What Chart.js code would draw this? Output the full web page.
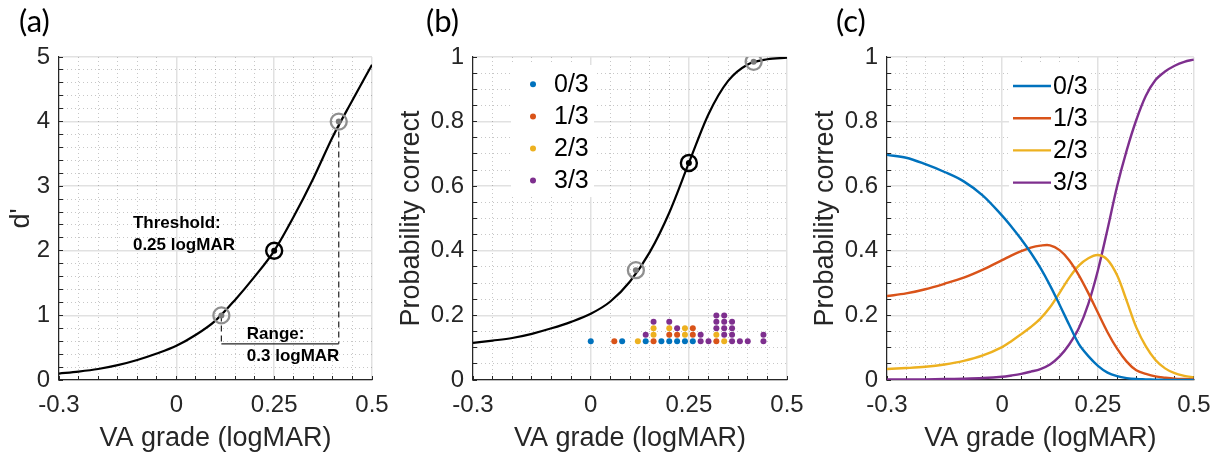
<!DOCTYPE html>
<html><head><meta charset="utf-8">
<script src="https://cdn.jsdelivr.net/npm/chart.js@4.4.1/dist/chart.umd.min.js"></script>
<style>
html,body{margin:0;padding:0;background:#fff;}
#wrap{position:relative;width:1221px;height:455px;overflow:hidden;background:#fff;}
canvas{position:absolute;left:0;top:0;}
.plabel{position:absolute;font-family:Lato,'Open Sans',sans-serif;font-size:31px;color:#000;line-height:1;}
</style></head><body>
<div id="wrap">
<canvas id="ca" width="1221" height="455"></canvas>
<canvas id="cb" width="1221" height="455"></canvas>
<canvas id="cc" width="1221" height="455"></canvas>
<div class="plabel" style="left:19px;top:5px">(a)</div>
<div class="plabel" style="left:426px;top:5px">(b)</div>
<div class="plabel" style="left:836px;top:5px">(c)</div>
</div>
<script>
// ---------- data ----------
const xMajorTicks = [-0.3, 0, 0.25, 0.5];
const dprimeTicks = [0, 1, 2, 3, 4, 5];
const probTicks = [0, 0.2, 0.4, 0.6, 0.8, 1];
const xTitle = 'VA grade (logMAR)';
const yTitleA = "d'";
const yTitleBC = 'Probability correct';

// panel (a): d' psychometric function
const curveXA = [-0.3,-0.25,-0.2,-0.15,-0.1,-0.05,0,0.05,0.1,0.15,0.2,0.25,0.3,0.35,0.4,0.45,0.5];
const dprime = [0.10,0.13,0.17,0.23,0.31,0.41,0.53,0.70,0.92,1.24,1.60,2.00,2.53,3.12,3.77,4.33,4.88];
const keyX = [0.115, 0.25, 0.415];
const keyD = [1, 2, 4];
const rangeBarD = 0.56;
const annotText = ['Threshold:', '0.25 logMAR', 'Range:', '0.3 logMAR'];

// panel (b): probability correct + observed responses
const curveXB = [-0.3,-0.25,-0.2,-0.15,-0.1,-0.05,0,0.05,0.1,0.15,0.2,0.25,0.3,0.35,0.4,0.45,0.5];
const pCorrect = [0.115,0.122,0.130,0.143,0.160,0.180,0.205,0.243,0.305,0.395,0.518,0.672,0.823,0.926,0.977,0.993,0.998];
const keyP = [0.34, 0.672, 0.985];
const seriesLabels = ['0/3', '1/3', '2/3', '3/3'];
const resp0X = [0, 0.08, 0.14, 0.18, 0.20, 0.22, 0.24, 0.26];
const resp0Y = [0.12, 0.12, 0.12, 0.12, 0.12, 0.12, 0.12, 0.12];
const resp1X = [0.06, 0.16, 0.20, 0.22, 0.26, 0.26, 0.32];
const resp1Y = [0.12, 0.12, 0.14, 0.14, 0.14, 0.16, 0.12];
const resp2X = [0.12, 0.16, 0.16, 0.20, 0.24, 0.24, 0.32, 0.34];
const resp2Y = [0.12, 0.14, 0.16, 0.16, 0.14, 0.16, 0.14, 0.12];
const resp3X = [0.14, 0.16, 0.20, 0.22, 0.28, 0.28, 0.30, 0.32, 0.32, 0.32, 0.34, 0.34, 0.34, 0.34, 0.36, 0.36, 0.36, 0.36, 0.38, 0.40, 0.44, 0.44];
const resp3Y = [0.14, 0.18, 0.18, 0.16, 0.12, 0.14, 0.12, 0.16, 0.18, 0.20, 0.14, 0.16, 0.18, 0.20, 0.12, 0.14, 0.16, 0.18, 0.12, 0.12, 0.12, 0.14];

// panel (c): probability of each outcome
const curveXC = [-0.3,-0.25,-0.2,-0.15,-0.1,-0.05,0,0.025,0.05,0.075,0.1,0.125,0.15,0.175,0.2,0.225,0.25,0.275,0.3,0.325,0.35,0.375,0.4,0.425,0.45,0.475,0.5];
const p0of3 = [0.697,0.688,0.668,0.644,0.615,0.571,0.509,0.474,0.436,0.394,0.347,0.293,0.233,0.171,0.112,0.074,0.044,0.023,0.012,0.006,0.003,0.002,0.001,0.0005,0.0002,0.0001,0];
const p1of3 = [0.260,0.268,0.281,0.298,0.317,0.342,0.371,0.386,0.399,0.410,0.416,0.417,0.402,0.371,0.325,0.269,0.208,0.148,0.097,0.057,0.030,0.019,0.011,0.007,0.004,0.003,0.002];
const p2of3 = [0.034,0.037,0.041,0.048,0.059,0.076,0.102,0.121,0.142,0.164,0.190,0.225,0.270,0.316,0.354,0.377,0.387,0.372,0.324,0.245,0.163,0.104,0.062,0.036,0.021,0.013,0.008];
const p3of3 = [0.002,0.002,0.002,0.003,0.004,0.006,0.010,0.014,0.019,0.026,0.034,0.048,0.073,0.110,0.160,0.236,0.340,0.467,0.600,0.711,0.805,0.880,0.929,0.955,0.973,0.985,0.992];

// ---------- styles ----------
const seriesColors = ['#0072BD', '#D95319', '#EDB120', '#7E2F8E'];
const FONT = "'Liberation Sans', Arial, Helvetica, sans-serif";
const AXIS = '#262626';
Chart.defaults.font.family = FONT;

const pts = (xs, ys) => xs.map((x, i) => ({x: x, y: ys[i]}));
const fmt = v => String(Math.round(v * 100) / 100);
const near = (v, arr) => arr.some(a => Math.abs(a - v) < 1e-6);
const range = (a, b, s) => { const r = []; const n = Math.round((b - a) / s); for (let i = 0; i <= n; i++) r.push(Math.round((a + i * s) * 1000) / 1000); return r; };

function buildScales(yMajor, yMax, yMinorStep, yTitle, yWidth) {
  const xMinor = range(-0.3, 0.5, 0.05);
  const yMinor = range(0, yMax, yMinorStep);
  const tickFont = {family: FONT, size: 24};
  const titleFont = {family: FONT, size: 27};
  return {
    x: {
      type: 'linear', axis: 'x', position: 'bottom', weight: 1, min: -0.3, max: 0.5,
      afterBuildTicks: s => { s.ticks = xMajorTicks.map(v => ({value: v})); },
      afterFit: s => { s.height = 75; },
      grid: {color: '#e1e1e1', lineWidth: 1.5, drawTicks: false},
      border: {display: true, color: AXIS, width: 1.2},
      ticks: {padding: 10.5, color: AXIS, font: tickFont, autoSkip: false, maxRotation: 0, callback: v => fmt(v)},
      title: {display: true, text: xTitle, color: AXIS, font: titleFont, padding: {top: 0, bottom: 0}}
    },
    y: {
      type: 'linear', axis: 'y', position: 'left', weight: 1, min: 0, max: yMax,
      afterBuildTicks: s => { s.ticks = yMajor.map(v => ({value: v})); },
      afterFit: s => { s.width = yWidth; },
      grid: {color: '#e1e1e1', lineWidth: 1.5, drawTicks: false},
      border: {display: true, color: AXIS, width: 1.2},
      ticks: {padding: 9, color: AXIS, font: tickFont, autoSkip: false, callback: v => fmt(v)},
      title: {display: true, text: yTitle, color: AXIS, font: titleFont, padding: {top: 5, bottom: 0}}
    },
    xm: {
      type: 'linear', axis: 'x', position: 'bottom', weight: 0, min: -0.3, max: 0.5,
      afterBuildTicks: s => { s.ticks = xMinor.map(v => ({value: v})); },
      afterFit: s => { s.height = 0; },
      grid: {color: c => near(c.tick ? c.tick.value : 0, xMajorTicks) ? 'rgba(0,0,0,0)' : 'rgba(0,0,0,0.22)',
             lineWidth: 1, drawTicks: true, tickLength: -4, tickColor: AXIS, tickWidth: 1},
      border: {display: false, dash: [1, 3]},
      ticks: {display: false}
    },
    ym: {
      type: 'linear', axis: 'y', position: 'left', weight: 0, min: 0, max: yMax,
      afterBuildTicks: s => { s.ticks = yMinor.map(v => ({value: v})); },
      afterFit: s => { s.width = 0; },
      grid: {color: c => near(c.tick ? c.tick.value : 0, yMajor) ? 'rgba(0,0,0,0)' : 'rgba(0,0,0,0.22)',
             lineWidth: 1, drawTicks: true, tickLength: -4, tickColor: AXIS, tickWidth: 1},
      border: {display: false, dash: [1, 3]},
      ticks: {display: false}
    }
  };
}

// text annotations placed in data coordinates
const annotPlugin = {
  id: 'annot',
  afterDatasetsDraw(chart, args, o) {
    if (!o || !o.items) return;
    const {ctx} = chart;
    const xs = chart.scales.x, ys = chart.scales.y;
    ctx.save();
    ctx.font = o.font;
    ctx.fillStyle = '#000';
    ctx.textAlign = 'left';
    ctx.textBaseline = 'middle';
    o.items.forEach(it => ctx.fillText(it.text, xs.getPixelForValue(it.x), ys.getPixelForValue(it.y)));
    ctx.restore();
  }
};

// legend drawn inside the axes (MATLAB style)
const insetLegend = {
  id: 'insetLegend',
  afterDraw(chart, args, o) {
    if (!o || !o.kind) return;
    const {ctx, chartArea: ca} = chart;
    const items = chart.data.datasets.filter(d => d.legendItem);
    ctx.save();
    ctx.fillStyle = '#fff';
    ctx.fillRect(ca.left + o.boxLeft, ca.top + o.boxTop, o.boxWidth, o.boxHeight);
    ctx.font = o.font;
    ctx.textAlign = 'left';
    ctx.textBaseline = 'middle';
    items.forEach((d, i) => {
      const y = ca.top + o.firstY + i * o.rowH;
      const col = d.borderColor || d.backgroundColor;
      if (o.kind === 'dot') {
        ctx.fillStyle = d.backgroundColor;
        ctx.beginPath(); ctx.arc(ca.left + o.markX, y, o.dotR, 0, Math.PI * 2); ctx.fill();
      } else {
        ctx.strokeStyle = col; ctx.lineWidth = o.lineW;
        ctx.beginPath(); ctx.moveTo(ca.left + o.lineX0, y); ctx.lineTo(ca.left + o.lineX1, y); ctx.stroke();
      }
      ctx.fillStyle = '#000';
      ctx.fillText(d.label, ca.left + o.textX, y + 1);
    });
    ctx.restore();
  }
};

const baseOpts = (padL, padR, scales, pluginsExtra) => ({
  responsive: false, maintainAspectRatio: false, animation: false, devicePixelRatio: 1,
  layout: {padding: {left: padL, right: padR, top: 57, bottom: 0}},
  scales: scales,
  plugins: Object.assign({legend: {display: false}, tooltip: {enabled: false}}, pluginsExtra)
});

const GRAY = '#8f8f8f';
const ringSet = (x, y, col, r, w, ord) => ({type: 'scatter', data: [{x: x, y: y}], pointRadius: r, pointBorderWidth: w,
  pointBorderColor: col, pointBackgroundColor: 'rgba(0,0,0,0)', order: ord});
const dotSet = (x, y, col, r, ord) => ({type: 'scatter', data: [{x: x, y: y}], pointRadius: r, pointBorderWidth: 0,
  pointBackgroundColor: col, order: ord});

// ---------- panel (a) ----------
new Chart(document.getElementById('ca'), {
  type: 'scatter',
  data: {datasets: [
    ringSet(keyX[0], keyD[0], GRAY, 8, 2.3, 1), dotSet(keyX[0], keyD[0], '#7a7a7a', 3, 0),
    ringSet(keyX[1], keyD[1], '#000', 8, 2.4, 1), dotSet(keyX[1], keyD[1], '#000', 3, 0),
    ringSet(keyX[2], keyD[2], GRAY, 8, 2.3, 1), dotSet(keyX[2], keyD[2], '#7a7a7a', 3, 0),
    {type: 'line', data: pts(curveXA, dprime), borderColor: '#000', borderWidth: 2.2, pointRadius: 0,
     cubicInterpolationMode: 'monotone', order: 2},
    {type: 'line', data: pts([keyX[2], keyX[2]], [keyD[2], rangeBarD]), borderColor: '#222', borderWidth: 1.2,
     borderDash: [6, 4], pointRadius: 0, order: 3},
    {type: 'line', data: pts([keyX[0], keyX[0]], [keyD[0], rangeBarD]), borderColor: '#222', borderWidth: 1.2,
     borderDash: [6, 4], pointRadius: 0, order: 3},
    {type: 'line', data: pts([keyX[0], keyX[2]], [rangeBarD, rangeBarD]), borderColor: '#222', borderWidth: 1.2,
     pointRadius: 0, order: 3}
  ]},
  options: baseOpts(0, 1221 - 372, buildScales(dprimeTicks, 5, 0.2, yTitleA, 59), {
    annot: {font: "bold 17px " + FONT, items: [
      {text: annotText[0], x: -0.111, y: 2.43},
      {text: annotText[1], x: -0.111, y: 2.09},
      {text: annotText[2], x: 0.18, y: 0.70},
      {text: annotText[3], x: 0.18, y: 0.36}
    ]}
  }),
  plugins: [annotPlugin]
});

// ---------- panel (b) ----------
const respSets = [[resp0X, resp0Y], [resp1X, resp1Y], [resp2X, resp2Y], [resp3X, resp3Y]].map((r, i) => ({
  type: 'scatter', label: seriesLabels[i], legendItem: true, data: pts(r[0], r[1]), pointRadius: 3,
  pointBorderWidth: 0, backgroundColor: seriesColors[i], pointBackgroundColor: seriesColors[i], order: 1
}));
new Chart(document.getElementById('cb'), {
  type: 'scatter',
  data: {datasets: [
    ...respSets,
    ringSet(keyX[0], keyP[0], GRAY, 8, 2.3, 1), dotSet(keyX[0], keyP[0], '#7a7a7a', 3, 0),
    ringSet(keyX[1], keyP[1], '#000', 8, 2.4, 1), dotSet(keyX[1], keyP[1], '#000', 3, 0),
    ringSet(keyX[2], keyP[2], GRAY, 8, 2.3, 1), dotSet(keyX[2], keyP[2], '#7a7a7a', 3, 0),
    {type: 'line', data: pts(curveXB, pCorrect), borderColor: '#000', borderWidth: 2.2, pointRadius: 0,
     cubicInterpolationMode: 'monotone', order: 2}
  ]},
  options: baseOpts(390, 1221 - 787, buildScales(probTicks, 1, 0.05, yTitleBC, 83), {
    insetLegend: {kind: 'dot', font: "25px " + FONT, boxLeft: 38, boxTop: 8, boxWidth: 83, boxHeight: 132,
      markX: 60, dotR: 3, textX: 81, firstY: 27.3, rowH: 32.1}
  }),
  plugins: [insetLegend]
});

// ---------- panel (c) ----------
const outcome = [p0of3, p1of3, p2of3, p3of3];
new Chart(document.getElementById('cc'), {
  type: 'scatter',
  data: {datasets: outcome.map((ys, i) => ({
    type: 'line', label: seriesLabels[i], legendItem: true, data: pts(curveXC, ys), borderColor: seriesColors[i],
    backgroundColor: seriesColors[i], borderWidth: 2.4, pointRadius: 0, tension: 0.35
  }))},
  options: baseOpts(804, 20, buildScales(probTicks, 1, 0.05, yTitleBC, 83), {
    insetLegend: {kind: 'line', font: "25px " + FONT, boxLeft: 122, boxTop: 8, boxWidth: 81, boxHeight: 133,
      lineX0: 126, lineX1: 164, lineW: 2.4, textX: 166, firstY: 29, rowH: 32.2}
  }),
  plugins: [insetLegend]
});
</script>
</body></html>
